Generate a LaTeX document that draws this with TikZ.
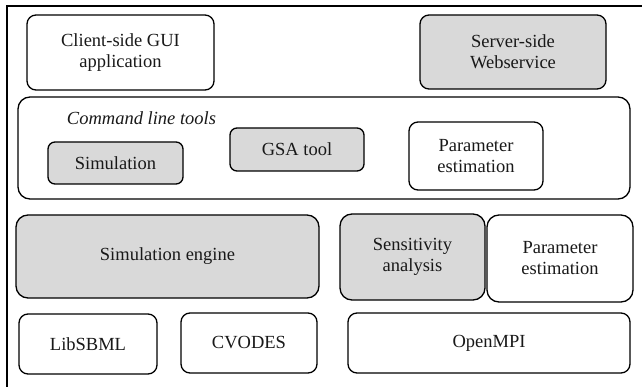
\documentclass[tikz,border=0pt]{standalone}
\usepackage{fontspec}
\setmainfont{Liberation Serif}
\begin{document}
\begin{tikzpicture}[x=1pt,y=-1pt,
  box/.style={draw=black, line width=1.3pt, rounded corners=9pt, align=center, inner sep=0pt,
    font=\fontsize{18.5}{21}\selectfont, text=black!90},
  gbox/.style={box, fill=gray!30},
  wbox/.style={box, fill=white}]
\useasboundingbox (0,0) rectangle (642,387);
\draw[line width=1.3pt] (7,387) -- (7,6) -- (642,6);
% top row
\node[wbox, minimum width=187pt, minimum height=75pt] (gui) at (120.5,52.5) {Client-side GUI\\application};
\node[gbox, minimum width=186pt, minimum height=74pt] (web) at (513,52) {Server-side\\Webservice};
% command line tools
\node[wbox, rounded corners=12pt, minimum width=612pt, minimum height=102pt] (cli) at (324,148) {};
\node[font=\fontsize{18.5}{21}\selectfont\itshape, text=black!90, inner sep=0pt] (clit) at (141.5,118) {Command line tools};
\node[gbox, rounded corners=7pt, minimum width=135pt, minimum height=42pt] (sim) at (115.5,163) {Simulation};
\node[gbox, rounded corners=7pt, minimum width=134pt, minimum height=43pt] (gsa) at (297,149.5) {GSA tool};
\node[wbox, rounded corners=9pt, minimum width=134pt, minimum height=68pt] (pe1) at (476,156) {Parameter\\estimation};
% engine row
\node[gbox, rounded corners=12pt, minimum width=303pt, minimum height=83pt] (eng) at (167.5,256.5) {Simulation engine};
\node[gbox, rounded corners=12pt, minimum width=145pt, minimum height=86pt] (sa) at (412.5,257) {Sensitivity\\analysis};
\node[wbox, rounded corners=12pt, minimum width=146pt, minimum height=87pt] (pe2) at (560,258.5) {Parameter\\estimation};
% libraries
\node[wbox, rounded corners=9pt, minimum width=138pt, minimum height=60pt] (sbml) at (88,344) {LibSBML};
\node[wbox, rounded corners=9pt, minimum width=136pt, minimum height=60pt] (cv) at (249,343) {CVODES};
\node[wbox, rounded corners=9pt, minimum width=282pt, minimum height=60pt] (mpi) at (489,343) {OpenMPI};
\end{tikzpicture}
\end{document}
